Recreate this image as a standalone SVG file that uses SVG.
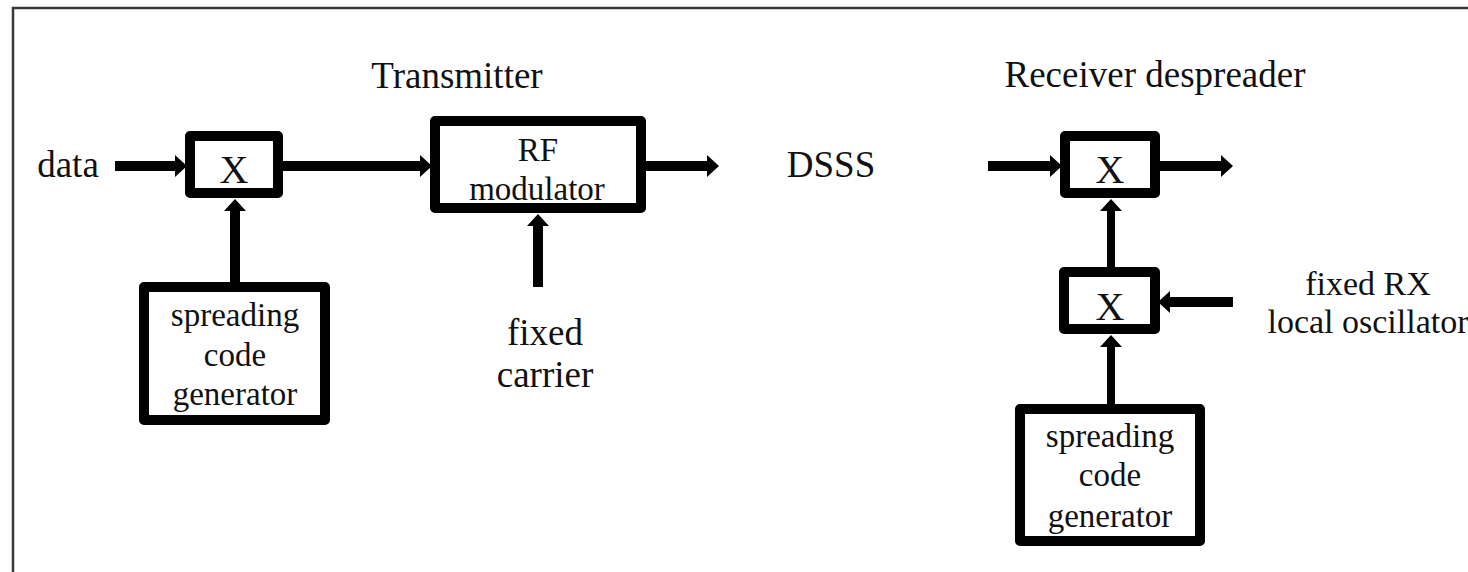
<svg xmlns="http://www.w3.org/2000/svg" width="1468" height="572" viewBox="0 0 1468 572">
<style>
.frame{fill:none;stroke:#3a3a3a;stroke-width:2.5}
.box{fill:#fff;stroke:#000;stroke-width:10;stroke-linejoin:round}
.con{fill:none;stroke:#000;stroke-width:10}
.thin{stroke-width:8}
text{font-family:"Liberation Serif","Times New Roman",serif;fill:#111;text-anchor:middle}
.title{font-size:37px}
.lbl{font-size:37px}
.lbl2{font-size:34px}
.bt{font-size:33px}
.x{font-size:40px}
</style>
<defs>
<marker id="ah" markerUnits="userSpaceOnUse" viewBox="0 0 12 22" refX="0" refY="11" markerWidth="12" markerHeight="22" orient="auto">
<path d="M0,0 L12,11 L0,22 z" fill="#000"/>
</marker>
</defs>
<rect width="1468" height="572" fill="#fff"/>
<path class="frame" d="M13,572 L13,8 L1470,8"/>

<text class="title" x="457" y="88">Transmitter</text>
<text class="title" x="1155" y="87">Receiver despreader</text>

<g id="connectors">
<line class="con" x1="115" y1="166" x2="175" y2="166" marker-end="url(#ah)"/>
<line class="con" x1="283" y1="166" x2="420" y2="166" marker-end="url(#ah)"/>
<line class="con" x1="646" y1="166" x2="707" y2="166" marker-end="url(#ah)"/>
<line class="con" x1="235" y1="283" x2="235" y2="211" marker-end="url(#ah)"/>
<line class="con" x1="538" y1="287" x2="538" y2="226" marker-end="url(#ah)"/>
<line class="con" x1="988" y1="166" x2="1050" y2="166" marker-end="url(#ah)"/>
<line class="con" x1="1160" y1="166" x2="1221" y2="166" marker-end="url(#ah)"/>
<line class="con thin" x1="1111" y1="268" x2="1111" y2="211" marker-end="url(#ah)"/>
<line class="con" x1="1233" y1="302" x2="1170" y2="302" marker-end="url(#ah)"/>
<line class="con thin" x1="1111" y1="404" x2="1111" y2="347" marker-end="url(#ah)"/>
</g>

<g id="label-data"><text class="lbl" x="68" y="177">data</text></g>

<g id="mixer-tx">
<rect class="box" x="190" y="136" width="88" height="57"/>
<text class="x" x="234" y="183">X</text>
</g>

<g id="spread-tx">
<rect class="box" x="144" y="287" width="181" height="133"/>
<text class="bt" x="235" y="326">spreading</text>
<text class="bt" x="235" y="366">code</text>
<text class="bt" x="235" y="405">generator</text>
</g>

<g id="rf-mod">
<rect class="box" x="435" y="121" width="206" height="87"/>
<text class="bt" x="538" y="161">RF</text>
<text class="bt" x="537" y="200">modulator</text>
</g>

<g id="label-carrier">
<text class="lbl" x="545" y="345">fixed</text>
<text class="lbl" x="545" y="387">carrier</text>
</g>

<g id="label-dsss"><text class="lbl" x="831" y="177">DSSS</text></g>

<g id="mixer-rx1">
<rect class="box" x="1065" y="136" width="90" height="57"/>
<text class="x" x="1110" y="183">X</text>
</g>

<g id="mixer-rx2">
<rect class="box" x="1064" y="272" width="91" height="57"/>
<text class="x" x="1110" y="320">X</text>
</g>

<g id="label-lo">
<text class="lbl2" x="1368" y="295">fixed RX</text>
<text class="lbl2" x="1368" y="333">local oscillator</text>
</g>

<g id="spread-rx">
<rect class="box" x="1020" y="409" width="180" height="132"/>
<text class="bt" x="1110" y="447">spreading</text>
<text class="bt" x="1110" y="486">code</text>
<text class="bt" x="1110" y="527">generator</text>
</g>
</svg>
